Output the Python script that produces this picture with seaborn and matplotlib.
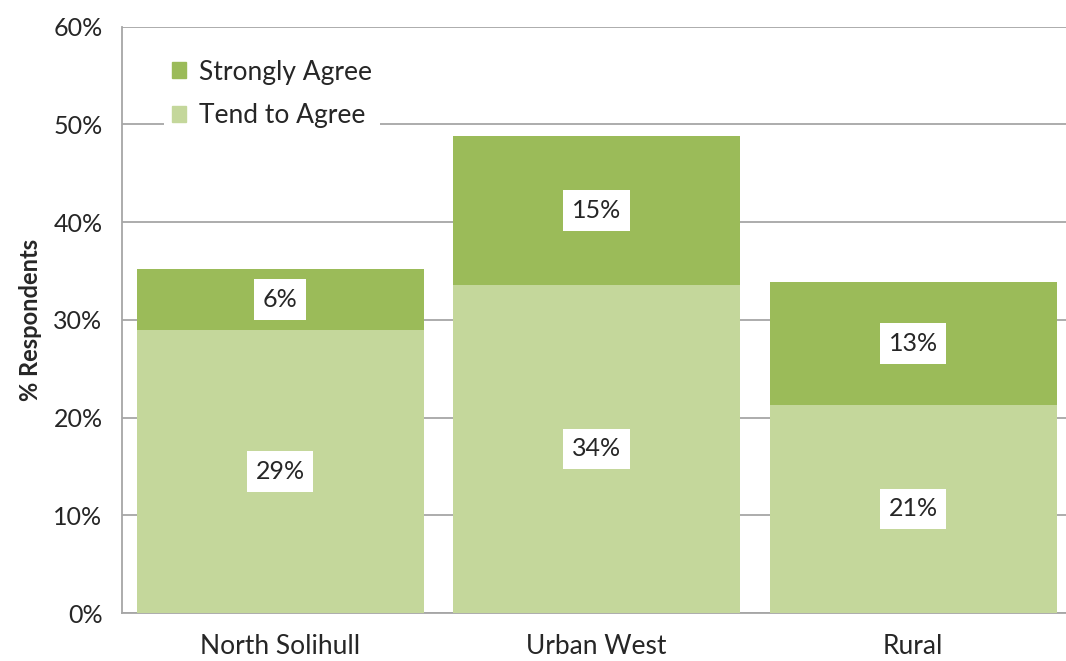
import matplotlib
matplotlib.use("Agg")
import matplotlib.pyplot as plt
import matplotlib.patches as mpatches
import seaborn as sns

# data
categories = ["North Solihull", "Urban West", "Rural"]
tend_agree = [29.0, 33.6, 21.3]
strongly_agree = [6.2, 15.2, 12.6]
tend_labels = ["29%", "34%", "21%"]
strong_labels = ["6%", "15%", "13%"]
y_ticks = [0, 10, 20, 30, 40, 50, 60]

dark_green = "#9BBB59"
light_green = "#C4D79B"
grid_grey = "#A6A6A6"

sns.set_style("white")
plt.rcParams["font.family"] = ["Lato", "DejaVu Sans"]

totals = [t + s for t, s in zip(tend_agree, strongly_agree)]

fig = plt.figure(figsize=(10.66, 6.61), dpi=100)
ax = fig.add_axes([0.1144, 0.0726, 0.8906, 0.887])

sns.barplot(x=categories, y=totals, color=dark_green, width=0.907,
            saturation=1, linewidth=0, ax=ax, zorder=2)
sns.barplot(x=categories, y=tend_agree, color=light_green, width=0.907,
            saturation=1, linewidth=0, ax=ax, zorder=3)

# segment labels in white boxes
box = dict(boxstyle="square,pad=0.35", facecolor="white", edgecolor="none")
for i in range(len(categories)):
    ax.text(i, tend_agree[i] / 2, tend_labels[i], ha="center", va="center",
            fontsize=18, bbox=box, zorder=5)
    ax.text(i, tend_agree[i] + strongly_agree[i] / 2, strong_labels[i],
            ha="center", va="center", fontsize=18, bbox=box, zorder=5)

ax.set_xlim(-0.5, 2.5)
ax.set_ylim(0, 60)
ax.set_yticks(y_ticks)
ax.set_yticklabels([f"{v}%" for v in y_ticks], fontsize=18)
ax.yaxis.grid(True, color=grid_grey, linewidth=1.3, zorder=0)
ax.set_axisbelow(True)

# category labels centred, ticks at boundaries
ax.set_xticks([0, 1, 2])
ax.set_xticklabels(categories, fontsize=19)
ax.set_xticks([-0.5, 0.5, 1.5], minor=True)
ax.tick_params(axis="x", which="major", length=0, pad=15)
ax.tick_params(axis="x", which="minor", length=7, width=1.3, color=grid_grey,
               direction="out")
ax.tick_params(axis="y", length=10, width=1.3, color=grid_grey, direction="out",
               pad=4)

ax.set_ylabel("% Respondents", fontsize=17, fontweight="bold", labelpad=8)
ax.set_xlabel("")

for side in ["top", "right"]:
    ax.spines[side].set_visible(False)
for side in ["left", "bottom"]:
    ax.spines[side].set_color(grid_grey)
    ax.spines[side].set_linewidth(1.3)

handles = [mpatches.Patch(color=dark_green, label="Strongly Agree"),
           mpatches.Patch(color=light_green, label="Tend to Agree")]
leg = ax.legend(handles=handles, loc="upper left", bbox_to_anchor=(0.03, 0.98),
                fontsize=19, frameon=True, handlelength=0.55, handleheight=0.55,
                handletextpad=0.5, labelspacing=0.7, borderpad=0.3,
                fancybox=False)
leg.get_frame().set_facecolor("white")
leg.get_frame().set_edgecolor("none")
leg.get_frame().set_alpha(1)
leg.set_zorder(6)

fig.savefig("out.png", dpi=100)
